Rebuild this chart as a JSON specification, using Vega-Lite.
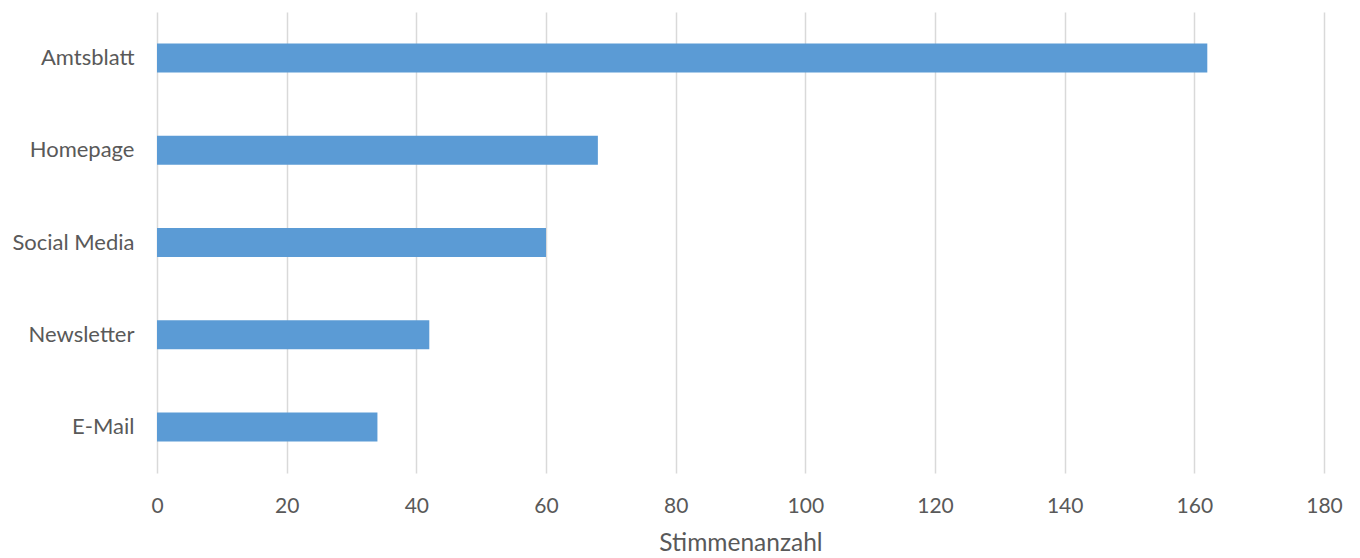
{
  "$schema": "https://vega.github.io/schema/vega-lite/v6.json",
  "width": 1167,
  "height": 461,
  "autosize": {"type": "none"},
  "padding": {"left": 157, "top": 12, "right": 36, "bottom": 85},
  "background": "white",
  "config": {"view": {"stroke": null}, "font": "Lato"},
  "data": {"values": [
    {"kanal": "Amtsblatt", "stimmen": 162},
    {"kanal": "Homepage", "stimmen": 68},
    {"kanal": "Social Media", "stimmen": 60},
    {"kanal": "Newsletter", "stimmen": 42},
    {"kanal": "E-Mail", "stimmen": 34}
  ]},
  "mark": {"type": "bar", "color": "#5B9BD5"},
  "encoding": {
    "y": {
      "field": "kanal", "type": "nominal", "sort": null,
      "scale": {"paddingInner": 0.685, "paddingOuter": 0.3425},
      "axis": {"title": null, "domain": false, "ticks": false, "labelFontSize": 22, "labelColor": "#595959", "labelPadding": 23, "labelFont": "Lato", "labelBaseline": "middle"}
    },
    "x": {
      "field": "stimmen", "type": "quantitative",
      "scale": {"domain": [0, 180], "nice": false},
      "axis": {"values": [0,20,40,60,80,100,120,140,160,180], "title": "Stimmenanzahl", "titleFontSize": 24.5, "titleFontWeight": "normal", "titleColor": "#595959", "titlePadding": 15, "domain": false, "ticks": false, "grid": true, "gridColor": "#D9D9D9", "gridWidth": 1.5, "labelFontSize": 21, "labelColor": "#595959", "labelPadding": 22, "labelFlush": false, "labelFont": "Lato", "titleFont": "Lato"}
    }
  }
}
